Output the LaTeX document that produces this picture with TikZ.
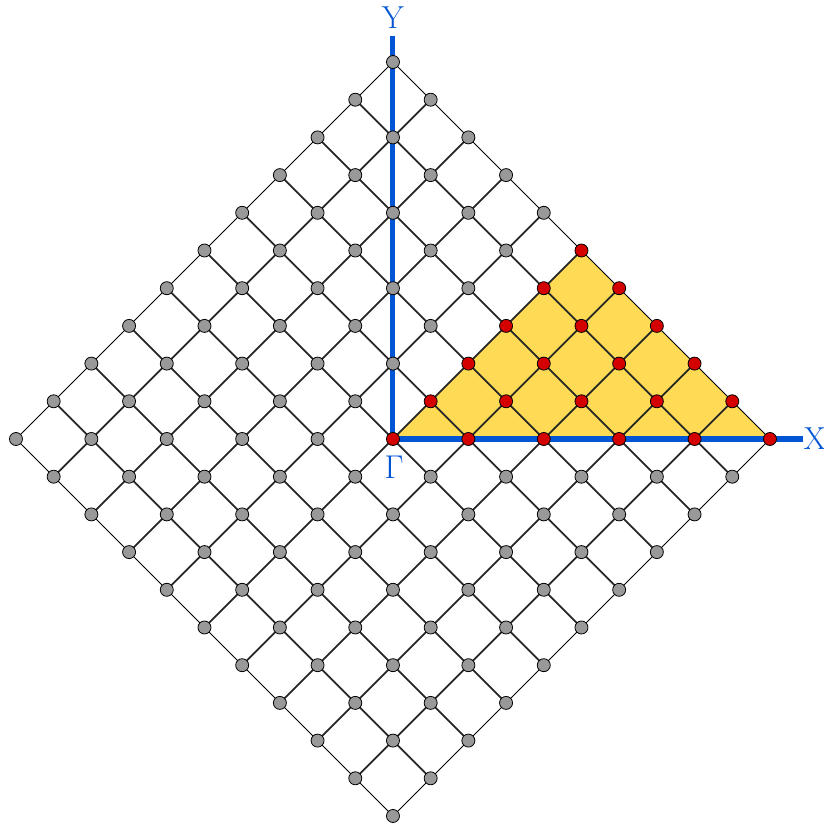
\documentclass[tikz,border=0pt]{standalone}
\definecolor{axisblue}{RGB}{0,85,212}
\definecolor{fillyellow}{RGB}{255,218,85}
\definecolor{ptred}{RGB}{212,0,0}
\definecolor{ptgray}{RGB}{153,153,153}
\tikzset{
  pt/.style={circle,draw=black,line width=0.6pt,minimum size=0.345cm,inner sep=0pt},
  graypt/.style={pt,fill=ptgray},
  redpt/.style={pt,fill=ptred},
  inner/.style={line width=1.35pt,black!85},
  outer/.style={line width=0.65pt,black},
  axis/.style={line width=3.8pt,axisblue},
  lab/.style={text=axisblue,font=\fontsize{24}{28}\selectfont,inner sep=0pt}
}
\begin{document}
\begin{tikzpicture}
\useasboundingbox (-10.424,-10.239) rectangle (11.432,11.645);
% coordinates
\foreach \i in {-10,...,10}{
  \foreach \j in {-10,...,10}{
    \pgfmathtruncatemacro\ss{abs(\i)+abs(\j)}
    \pgfmathtruncatemacro\pp{mod(\i+\j+20,2)}
    \ifnum\ss<11 \ifnum\pp=0
      \coordinate (v\i x\j) at (\i,\j);
    \fi\fi
  }
}
% yellow triangle
\fill[fillyellow] (v0x0) -- (v10x0) -- (v5x5) -- cycle;
% lattice lines
\foreach \c in {-8,-6,...,8}{
  \pgfmathtruncatemacro\a{(10+\c)/2}
  \pgfmathtruncatemacro\b{(10-\c)/2}
  \pgfmathtruncatemacro\d{(\c-10)/2}
  \pgfmathtruncatemacro\e{-(10+\c)/2}
  \draw[inner] (v\a x\b) -- (v\d x\e);
  \draw[inner] (v\a x\d) -- (v\d x\a);
}
\draw[outer] (v10x0) -- (v0x10) -- (v-10x0) -- (v0x-10) -- cycle;
% axes
\coordinate (ytip) at (0,10.69);
\coordinate (xtip) at (10.87,0);
\draw[axis] (v0x0) -- (ytip);
\draw[axis] (v0x0) -- (xtip);
\node[lab] (Ylab) at (0,11.17) {Y};
\node[lab] (Xlab) at (11.19,0) {X};
\node[lab] (Glab) at (0.03,-0.74) {$\Gamma$};
% points
\foreach \i in {-10,...,10}{
  \foreach \j in {-10,...,10}{
    \pgfmathtruncatemacro\ss{abs(\i)+abs(\j)}
    \pgfmathtruncatemacro\pp{mod(\i+\j+20,2)}
    \pgfmathtruncatemacro\red{(\j>=0)&&(\j<=\i)&&(\i+\j<=10)}
    \ifnum\ss<11 \ifnum\pp=0
      \ifnum\red=1
        \node[redpt] (n\i x\j) at (v\i x\j) {};
      \else
        \node[graypt] (n\i x\j) at (v\i x\j) {};
      \fi
    \fi\fi
  }
}
\end{tikzpicture}
\end{document}
